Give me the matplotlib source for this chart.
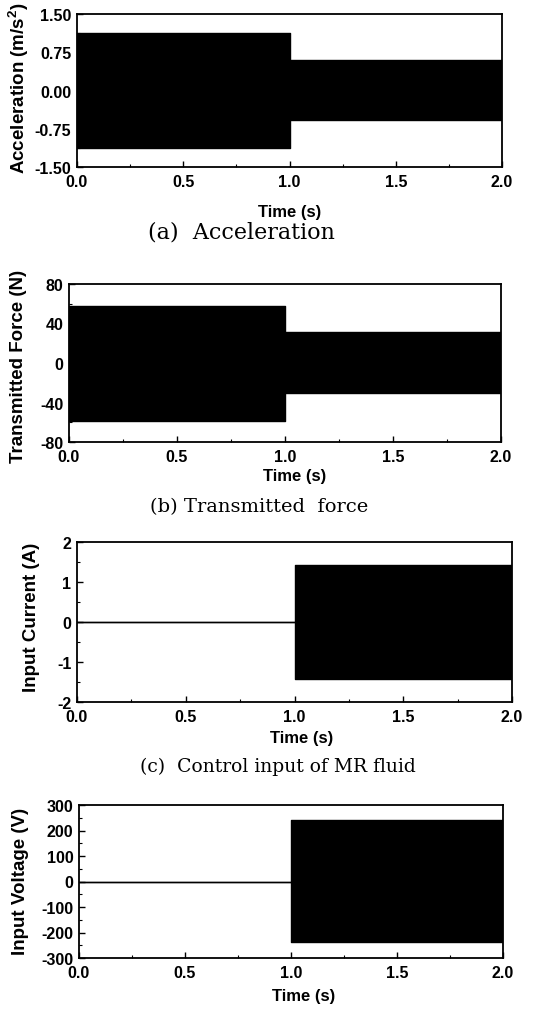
import matplotlib
matplotlib.use("Agg")
import matplotlib.pyplot as plt
from matplotlib.ticker import MultipleLocator

# ---- data (envelopes of the dense oscillating signals) ----
time_edges = [0.0, 1.0, 2.0]

accel_upper = [1.13, 0.60, 0.60]
accel_lower = [-1.13, -0.57, -0.57]

force_upper = [58.0, 31.0, 31.0]
force_lower = [-59.0, -30.0, -30.0]

current_upper = [0.0, 1.42, 1.42]
current_lower = [0.0, -1.43, -1.43]

voltage_upper = [0.0, 241.0, 241.0]
voltage_lower = [0.0, -237.0, -237.0]

ylabels = ["Acceleration (m/s$^\\mathbf{2}$)", "Transmitted Force (N)", "Input Current (A)", "Input Voltage (V)"]
captions = ["(a)  Acceleration", "(b) Transmitted  force", "(c)  Control input of MR fluid", None]
xlabel = "Time (s)"
xticks = [0.0, 0.5, 1.0, 1.5, 2.0]

W, H = 541, 1012
fig = plt.figure(figsize=(W / 100, H / 100), dpi=100)

sans = ["Liberation Sans", "DejaVu Sans"]
serif = ["DejaVu Serif"]
plt.rcParams["mathtext.fontset"] = "custom"
plt.rcParams["mathtext.bf"] = "Liberation Sans:bold"
plt.rcParams["mathtext.rm"] = "Liberation Sans:bold"

# axes boxes in pixels: left, top, right, bottom
boxes = [(77, 15, 502, 168), (69, 285, 501, 443), (77, 543, 512, 703), (79, 806, 503, 959)]
ylims = [(-1.5, 1.5), (-80, 80), (-2, 2), (-300, 300)]
ymajor = [0.75, 40, 1, 100]
yfmt = ["{:.2f}", "{:.0f}", "{:.0f}", "{:.0f}"]
series = [(accel_upper, accel_lower), (force_upper, force_lower),
          (current_upper, current_lower), (voltage_upper, voltage_lower)]
ylabel_pos = [(19, 88), (19, 366), (32, 617), (21, 881)]
xlabel_pos = [(290, 213), (295, 477), (302, 739), (304, 997)]
caption_pos = [(241, 233), (259, 507), (278, 767), None]
caption_size = [16, 14, 13.5, None]

for i in range(4):
    l, t, r, b = boxes[i]
    ax = fig.add_axes([l / W, 1 - b / H, (r - l) / W, (b - t) / H])
    up, lo = series[i]
    ax.fill_between(time_edges, lo, up, step="post", color="black", linewidth=0)
    ax.step(time_edges, up, where="post", color="black", linewidth=1.0)
    ax.step(time_edges, lo, where="post", color="black", linewidth=1.0)
    ax.set_xlim(0, 2)
    ax.set_ylim(*ylims[i])
    ax.set_xticks(xticks)
    ax.set_xticklabels([f"{v:.1f}" for v in xticks], fontfamily=sans, fontweight="bold", fontsize=11.5)
    ax.xaxis.set_minor_locator(MultipleLocator(0.25))
    ax.yaxis.set_major_locator(MultipleLocator(ymajor[i]))
    ax.yaxis.set_minor_locator(MultipleLocator(ymajor[i] / 2))
    yt = ax.get_yticks()
    yt = [v for v in yt if ylims[i][0] - 1e-9 <= v <= ylims[i][1] + 1e-9]
    ax.set_yticks(yt)
    ax.set_yticklabels([yfmt[i].format(v) for v in yt], fontfamily=sans, fontweight="bold", fontsize=11.5)
    ax.tick_params(which="major", direction="in", length=4, width=1,
                   top=False, right=False)
    ax.tick_params(axis="x", which="major", pad=5)
    ax.tick_params(axis="y", which="major", pad=4)
    ax.tick_params(which="minor", direction="in", length=2, width=0.8,
                   top=False, right=False)
    for s in ax.spines.values():
        s.set_linewidth(1.3)

    yx, yy = ylabel_pos[i]
    fig.text(yx / W, 1 - yy / H, ylabels[i], rotation=90,
             ha="center", va="center", fontfamily=sans, fontweight="bold", fontsize=13.5)
    xl, yl = xlabel_pos[i]
    fig.text(xl / W, 1 - yl / H, xlabel, ha="center", va="center",
             fontfamily=sans, fontweight="bold", fontsize=12)
    if captions[i] is not None:
        cx, cy = caption_pos[i]
        fig.text(cx / W, 1 - cy / H, captions[i], ha="center", va="center",
                 fontfamily=serif, fontsize=caption_size[i])

fig.savefig("out.png", dpi=100)
